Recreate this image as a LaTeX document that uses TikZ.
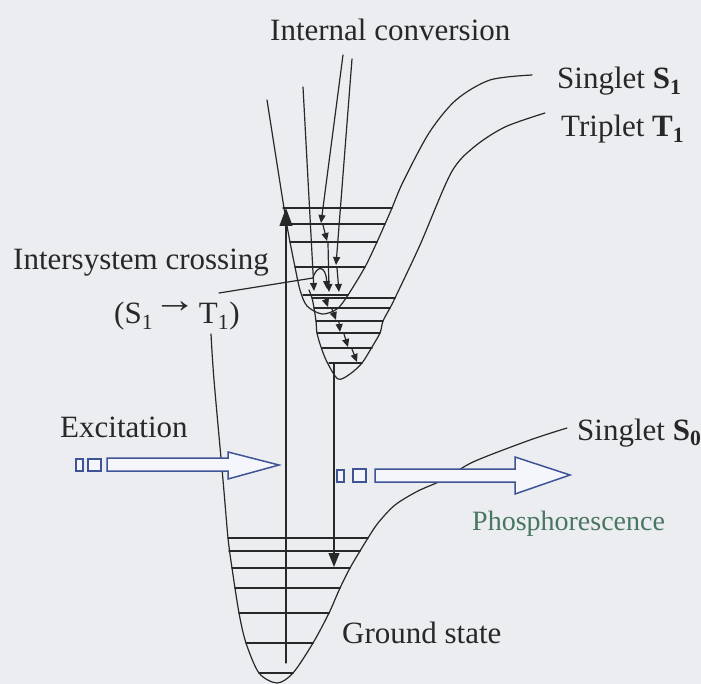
\documentclass[tikz,border=0pt]{standalone}
\usepackage{fontspec}
\setmainfont{Liberation Serif}
\usetikzlibrary{arrows.meta}
\definecolor{jablgray}{RGB}{40,40,40}
\definecolor{jablbg}{RGB}{236,237,240}
\definecolor{jablblue}{RGB}{62,84,150}
\definecolor{jablfill}{RGB}{244,246,251}
\definecolor{jablgreen}{RGB}{72,118,98}
\tikzset{
 lbl/.style={font=\fontsize{31}{37}\selectfont,text=jablgray,inner sep=0pt,anchor=base west},
 curve/.style={jablgray,line width=1.2pt},
 level/.style={jablgray,line width=1.5pt},
 hollow/.style={draw=jablblue,fill=jablfill,line width=1.5pt,line join=miter},
 smalltip/.style={-{Triangle[width=7pt,length=8pt]}},
}

\begin{document}
\begin{tikzpicture}[x=1pt,y=-1pt,line cap=round]
\useasboundingbox (0,0) rectangle (701,684);
\fill[jablbg] (0,0) rectangle (701,684);
% singlet S1 well
\draw[curve] plot[smooth] coordinates {(267,100) (284,208) (290,242) (295,267)
 (300,290) (307,306) (322,314) (337,309) (348,295) (365,267) (377,242) (385,224)
 (392,208) (403,182) (429,133) (456,100) (490,80) (532,75)};
\foreach \y/\a/\b in {208/283/392,224/287/385,242/290/377,267/295/365,295/303/348}
 \draw[level] (\a,\y) -- (\b,\y);
% triplet T1 well
\draw[curve] plot[smooth] coordinates {(309,290) (312,298) (314,308) (316,321)
 (317,333) (321,347) (327,362) (338,379) (350,374) (362,363) (372,347) (380,333)
 (383,321) (390,308) (395,298) (420,245) (451,173) (474,147) (505,127) (545,113)};
\foreach \y/\a/\b in {298/312/395,308/314/390,321/316/383,333/317/380,348/322/372,363/329/362}
 \draw[level] (\a,\y) -- (\b,\y);
% ground state S0 well
\draw[curve] plot[smooth] coordinates {(211,334) (214,380) (223,480) (228,538)
 (232,568) (239,613) (246,643) (259,673) (277,683) (293,673) (313,643) (329,613)
 (340,588) (350,568) (360,551) (368,538) (378,523) (395,505) (418,491) (445,479)
 (473,462) (530,440) (567,428)};
\foreach \y/\a/\b in {538/228/368,551/229/360,568/232/350,588/235/340,613/239/329,643/246/313,673/259/293}
 \draw[level] (\a,\y) -- (\b,\y);
% absorption and emission
\draw[curve,-{Triangle[width=13pt,length=18pt]}] (286,663) -- (286,208);
\draw[curve,-{Triangle[width=11pt,length=14pt]}] (334,363) -- (334,567);
% internal conversion
\draw[curve,smalltip] (303,87) -- (314,291);
\draw[curve,smalltip] (343,55) -- (321,223);
\draw[curve,smalltip] (323,225) -- (327,241);
\draw[curve,smalltip] (328,243) -- (329,292);
\draw[curve,smalltip] (352,59) -- (336,265);
\draw[curve,smalltip] (337,268) -- (339,292);
\foreach \xa/\ya/\xb/\yb in {325/298/328/307,332/309/336/320,339/322/340/332,344/334/348/347,352/349/357/362}
 \draw[curve,smalltip] (\xa,\ya) -- (\xb,\yb);
% intersystem crossing
\draw[curve] (219,293) -- (313,278);
\draw[curve,smalltip] (313,278) .. controls (317,264) and (326,266) .. (327,289);
% hollow arrows
\draw[hollow] (76,459) rectangle (83,471);
\draw[hollow] (88,459) rectangle (101,471);
\draw[hollow] (107,458) -- (228,458) -- (228,452) -- (279,465) -- (228,479)
 -- (228,471) -- (107,471) -- cycle;
\draw[hollow] (337,470) rectangle (344,482);
\draw[hollow] (353,469) rectangle (366,482);
\draw[hollow] (375,469) -- (515,469) -- (515,457) -- (570,475) -- (515,494)
 -- (515,482) -- (375,482) -- cycle;
% labels
\node[lbl] (ic) at (270,41) {Internal conversion};
\node[lbl] (sone) at (557,89) {Singlet \textbf{S\textsubscript{1}}};
\node[lbl] (tone) at (561,137) {Triplet \textbf{T\textsubscript{1}}};
\node[lbl] (isc) at (13,270) {Intersystem crossing};
\node[lbl] (isctr) at (114,324) {(S\textsubscript{1}\raisebox{.36em}{\scalebox{1.4}[1.2]{→}}\hspace{.08em}T\textsubscript{1})};
\node[lbl] (exc) at (60,437) {Excitation};
\node[lbl] (szero) at (577,440) {Singlet \textbf{S\textsubscript{0}}};
\node[lbl,font=\fontsize{28}{34}\selectfont,text=jablgreen] (phos) at (472,530) {Phosphorescence};
\node[lbl] (ground) at (342,643) {Ground state};
\end{tikzpicture}
\end{document}
